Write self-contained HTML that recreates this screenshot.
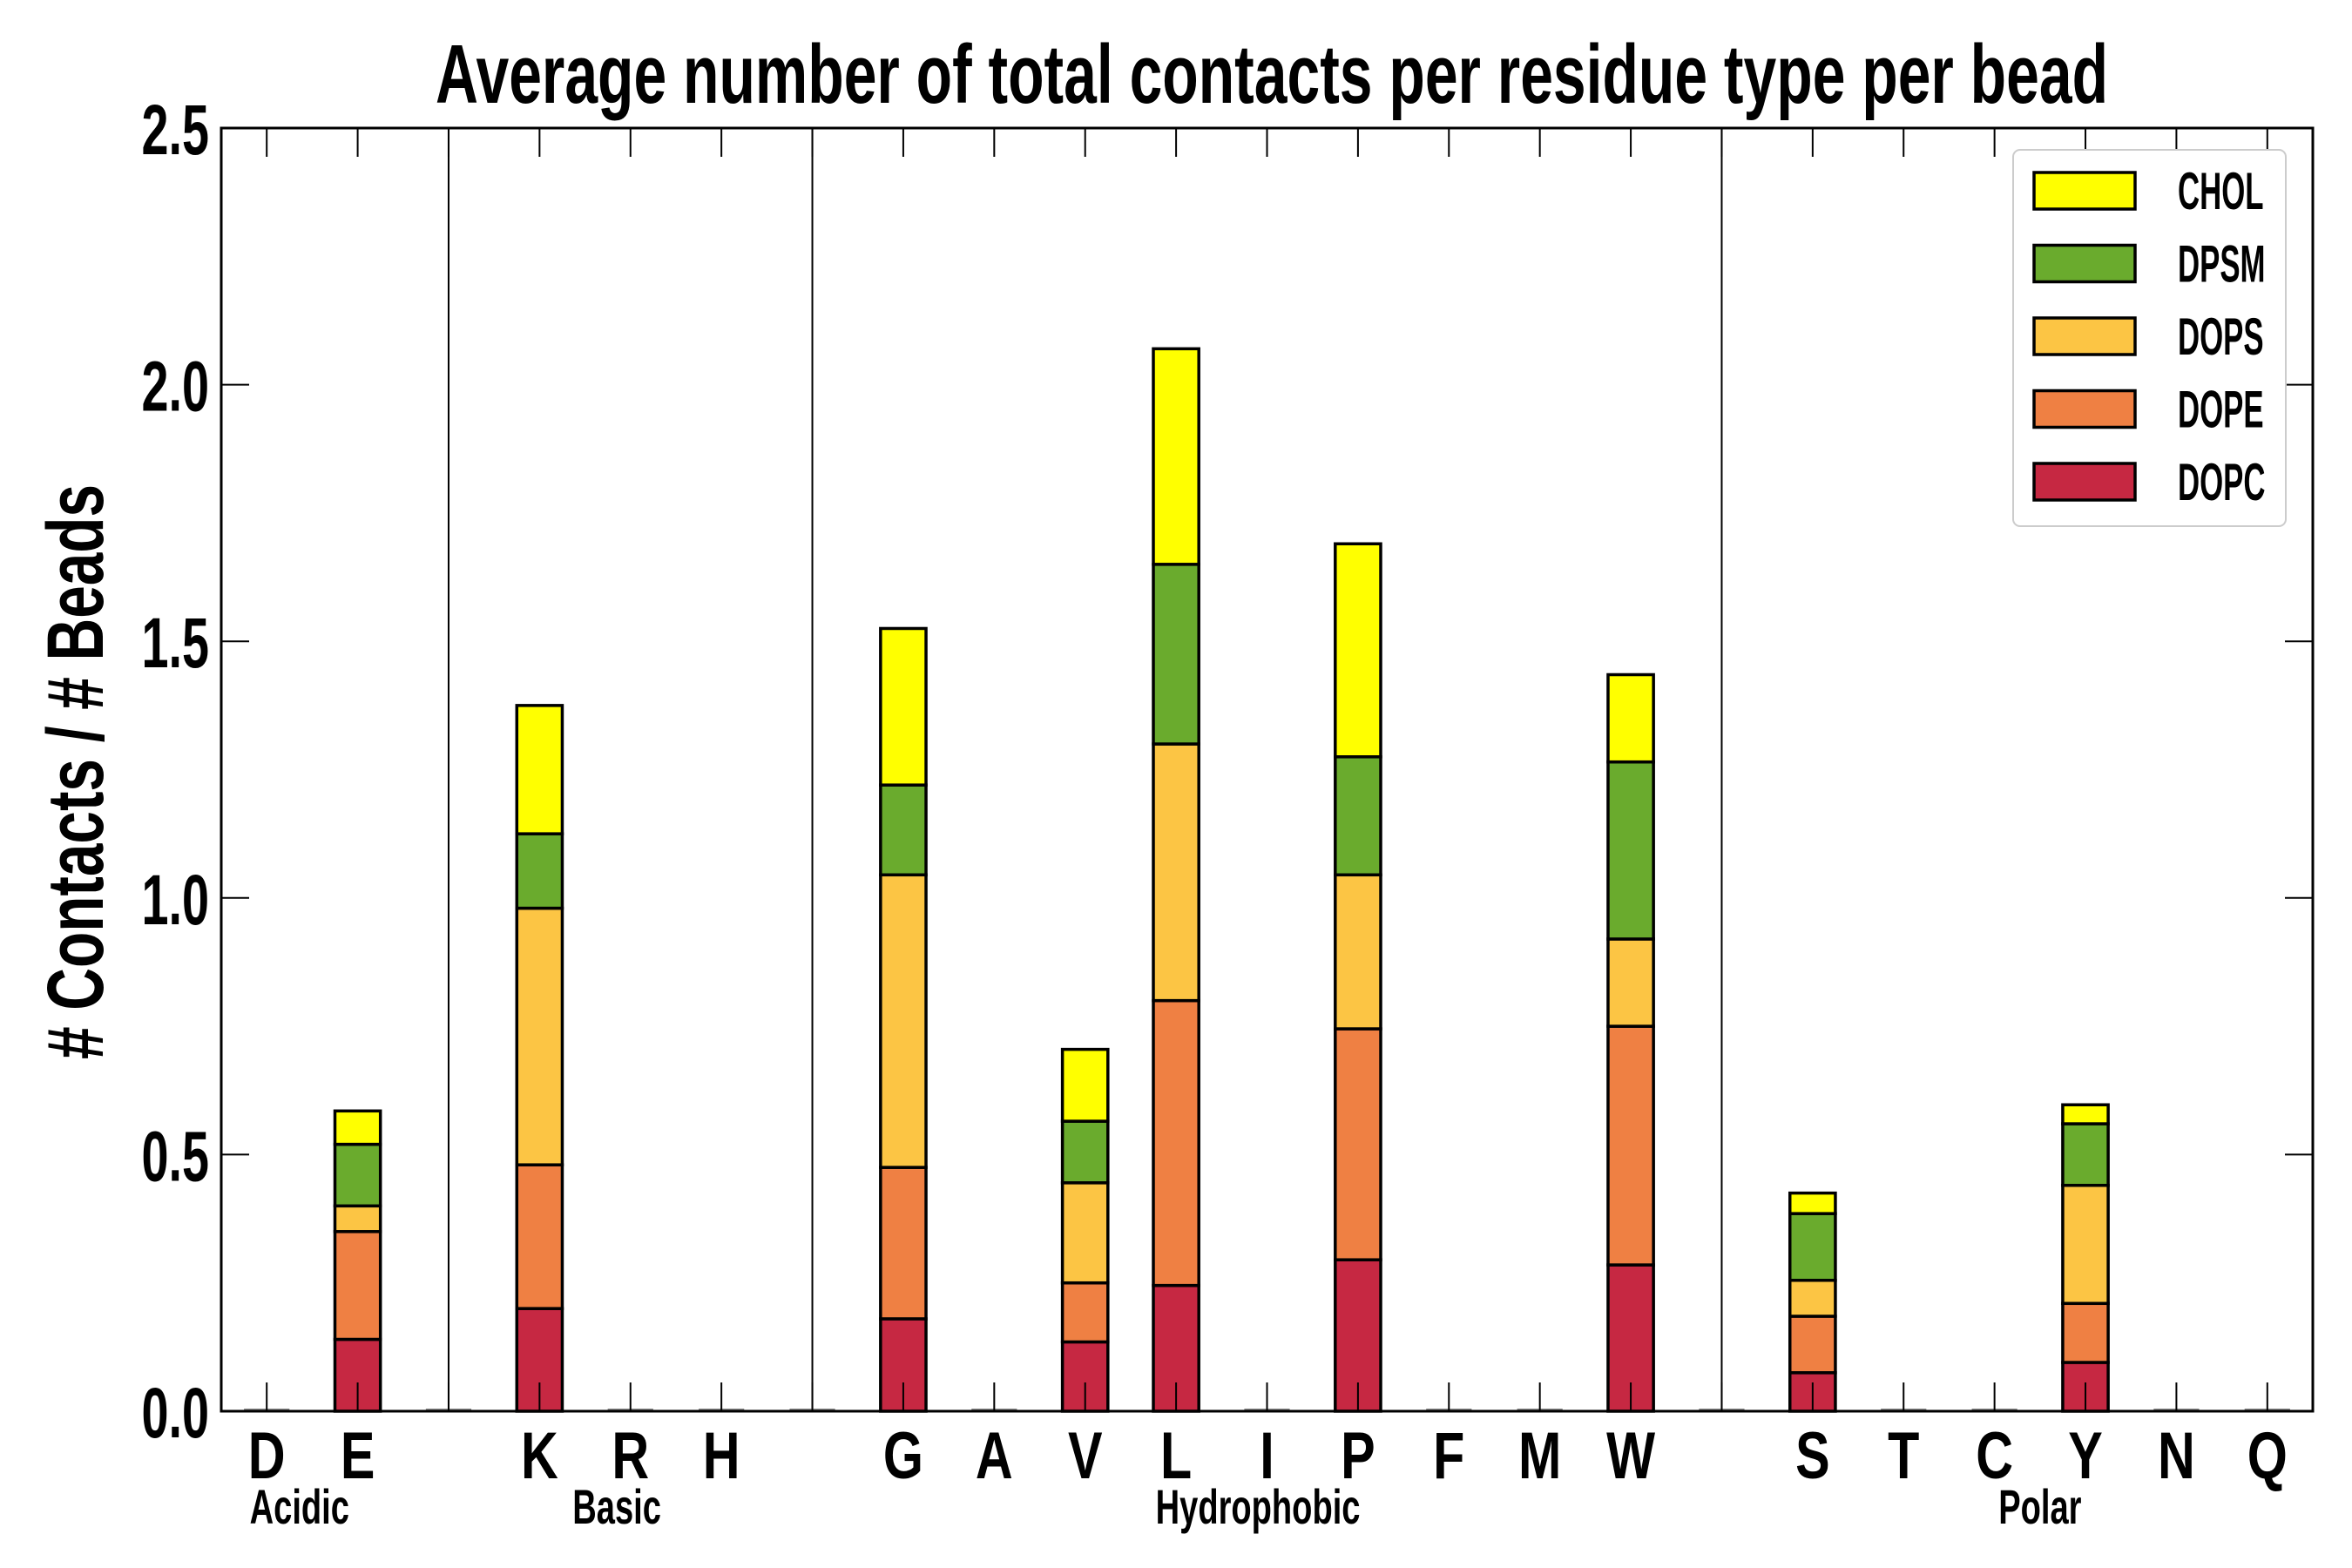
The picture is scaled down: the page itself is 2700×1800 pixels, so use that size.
<!DOCTYPE html>
<html><head><meta charset="utf-8"><style>
html,body{margin:0;padding:0;background:#fff;}
svg{display:block;}
text{font-family:"Liberation Sans Narrow","Liberation Sans",sans-serif;font-weight:bold;fill:#000;}
</style></head><body>
<svg id="chart" width="2700" height="1800" viewBox="0 0 2700 1800" xmlns="http://www.w3.org/2000/svg">
<text x="1460" y="118" text-anchor="middle" font-size="96" textLength="1920" lengthAdjust="spacingAndGlyphs">Average number of total contacts per residue type per bead</text>
<text transform="translate(118,886) rotate(-90)" text-anchor="middle" font-size="92" textLength="660" lengthAdjust="spacingAndGlyphs"># Contacts / # Beads</text>
<g id="plot"></g>
</svg>
<script>
const categories = ["D","E","","K","R","H","","G","A","V","L","I","P","F","M","W","","S","T","C","Y","N","Q"];
const seriesNames = ["DOPC","DOPE","DOPS","DPSM","CHOL"];
const DOPC = [0,0.14,0,0.20,0,0,0,0.18,0,0.135,0.245,0,0.295,0,0,0.285,0,0.075,0,0,0.095,0,0];
const DOPE = [0,0.21,0,0.28,0,0,0,0.295,0,0.115,0.555,0,0.45,0,0,0.465,0,0.11,0,0,0.115,0,0];
const DOPS = [0,0.05,0,0.50,0,0,0,0.57,0,0.195,0.50,0,0.30,0,0,0.17,0,0.07,0,0,0.23,0,0];
const DPSM = [0,0.12,0,0.145,0,0,0,0.175,0,0.12,0.35,0,0.23,0,0,0.345,0,0.13,0,0,0.12,0,0];
const CHOL = [0,0.065,0,0.25,0,0,0,0.305,0,0.14,0.42,0,0.415,0,0,0.17,0,0.04,0,0,0.037,0,0];
const yTicks = [0.0,0.5,1.0,1.5,2.0,2.5];
const groupNames = ["Acidic","Basic","Hydrophobic","Polar"];
const groupCenters = [0.36,3.85,10.9,19.5];
const separators = [2,6,16];

const NS="http://www.w3.org/2000/svg";
const L=254,R=2655,T=147,B=1620,YMAX=2.5;
const step=(R-L)/categories.length;
const xs=i=>L+(i+0.5)*step;
const ys=v=>B-(v/YMAX)*(B-T);
const colors={DOPC:"#c62842",DOPE:"#ef8043",DOPS:"#fcc544",DPSM:"#6aab2d",CHOL:"#ffff00"};
const data={DOPC,DOPE,DOPS,DPSM,CHOL};
const g=document.getElementById('plot');
function mk(tag,attrs,parent){const e=document.createElementNS(NS,tag);for(const k in attrs)e.setAttribute(k,attrs[k]);(parent||g).appendChild(e);return e;}
function ctext(x,y,str,size,sx,anchor,parent){
  const t=mk('text',{transform:`translate(${x},${y}) scale(${sx},1)`,"text-anchor":anchor,"font-size":size},parent);
  t.textContent=str;return t;
}

separators.forEach(i=>{
  const l=mk('line',{x1:xs(i),x2:xs(i),y1:T,y2:B,stroke:"#000","stroke-width":2});
  
  
});
const bw=step*0.5;
categories.forEach((c,i)=>{
  let acc=0;
  const tot=seriesNames.reduce((s,n)=>s+data[n][i],0);
  if(tot===0){
    const z=mk('rect',{x:xs(i)-bw/2,y:B-3,width:bw,height:3,fill:"#888"});
    
    
    return;
  }
  seriesNames.forEach(n=>{
    const v=data[n][i];
    const r=mk('rect',{x:xs(i)-bw/2,y:ys(acc+v),width:bw,height:ys(acc)-ys(acc+v),fill:colors[n],stroke:"#000","stroke-width":3.5});
    
    
    acc+=v;
  });
});
const fr=mk('rect',{x:L,y:T,width:R-L,height:B-T,fill:"none",stroke:"#000","stroke-width":3});


categories.forEach((c,i)=>{
  const x=xs(i);
  mk('line',{x1:x,x2:x,y1:T,y2:T+33,stroke:"#000","stroke-width":2});
  mk('line',{x1:x,x2:x,y1:B,y2:B-33,stroke:"#000","stroke-width":2});
  if(c){
    const t=ctext(x,1697,c,76,0.78,"middle");
    
    
  }
});
yTicks.forEach(v=>{
  const y=ys(v);
  mk('line',{x1:L,x2:L+32,y1:y,y2:y,stroke:"#000","stroke-width":2});
  mk('line',{x1:R,x2:R-32,y1:y,y2:y,stroke:"#000","stroke-width":2});
  const t=ctext(240,y+30,v.toFixed(1),82,0.68,"end");
  
  
});
groupNames.forEach((n,k)=>{
  const t=ctext(xs(groupCenters[k]),1749,n,56,0.68,"middle");
  
  
});
const lg=mk('g',{});


mk('rect',{x:2311,y:172,width:313,height:432,rx:8,fill:"#fff",stroke:"#ccc","stroke-width":2},lg);
const order=["CHOL","DPSM","DOPS","DOPE","DOPC"];
order.forEach((n,k)=>{
  const cy=219+k*83.5;
  const e=mk('g',{},lg);
  
  
  mk('rect',{x:2335,y:cy-21,width:116,height:42,fill:colors[n],stroke:"#000","stroke-width":3.5},e);
  ctext(2500,cy+21,n,60,0.58,"start",e);
});
</script>
</body></html>
